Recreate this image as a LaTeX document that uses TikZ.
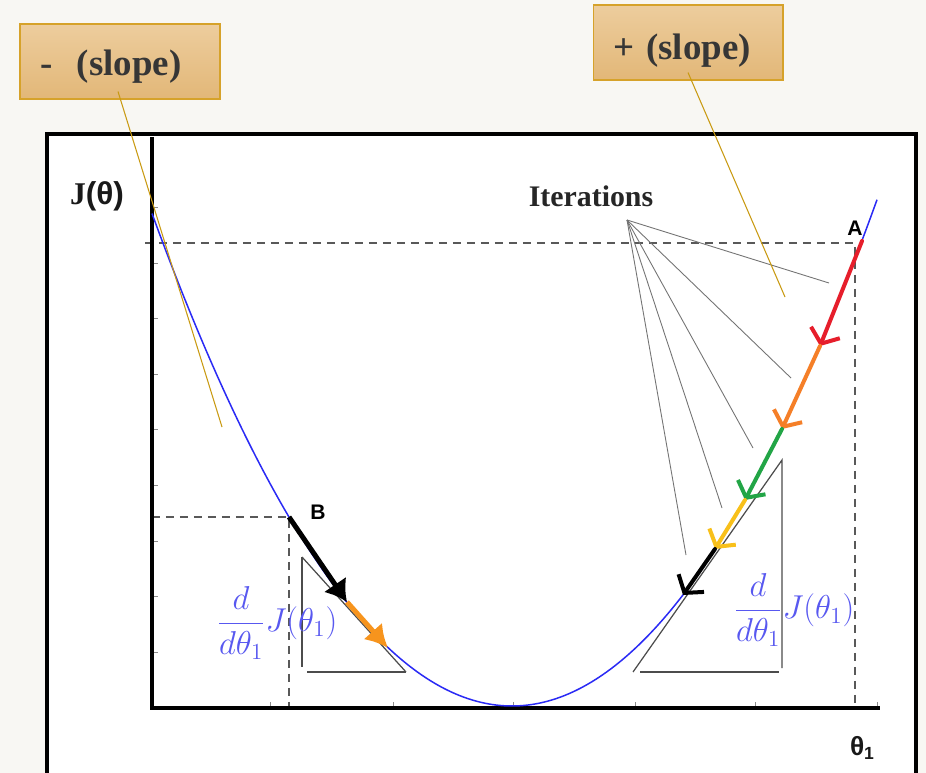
\documentclass[tikz,border=0pt]{standalone}
\usepackage{amsmath}
\usepackage{graphicx}
\usepackage{fontspec}
\setmainfont{Liberation Serif}
\newfontfamily\labelsans{Liberation Sans}
\usetikzlibrary{arrows.meta, positioning}

% colori
\definecolor{pagebg}{HTML}{F8F7F3}
\definecolor{boxtop}{HTML}{EDCD9D}
\definecolor{boxbot}{HTML}{E2B778}
\definecolor{boxedge}{HTML}{D6A22A}
\definecolor{leadergold}{HTML}{C99A12}
\definecolor{textgray}{HTML}{363636}
\definecolor{curveblue}{HTML}{2A2AF5}
\definecolor{derivblue}{HTML}{5858F0}
\definecolor{stepred}{HTML}{E61E2B}
\definecolor{steporange}{HTML}{F57F28}
\definecolor{stepgreen}{HTML}{22A546}
\definecolor{stepyellow}{HTML}{F8C01A}
\definecolor{bstep}{HTML}{F7941D}

\newcommand{\derivJ}{\scalebox{1.09}{$\dfrac{d}{d\theta_1}J(\theta_1)$}}

\begin{document}
\begin{tikzpicture}[
    x=0.02cm, y=-0.02cm,
    slopebox/.style={
        rectangle, draw=boxedge, line width=0.6pt,
        top color=boxtop, bottom color=boxbot,
        minimum height=1.5cm, inner xsep=0.4cm,
        font=\fontsize{21}{24}\selectfont\bfseries,
        text=textgray, align=left, text depth=0pt
    },
    leader/.style={draw=leadergold, line width=0.6pt},
    guide/.style={draw=black!65, line width=0.8pt,
        dash pattern=on 0.16cm off 0.12cm},
    axis/.style={line width=0.09cm},
    tick/.style={draw=black!45, line width=0.5pt},
    tri/.style={draw=black!70, line width=0.7pt},
    iterline/.style={draw=black!55, line width=0.5pt},
    pointlabel/.style={font=\labelsans\bfseries\fontsize{12}{14}\selectfont},
    deriv/.style={text=derivblue, font=\fontsize{17.28}{20}\selectfont},
    bigstep/.style={line width=0.1cm, -{Latex[length=0.42cm, width=0.55cm]}},
    smallstep/.style={line width=0.08cm, line cap=round, line join=round,
        -{Straight Barb[length=0.24cm, width=0.62cm]}},
]

% Sfondo e cornice
\useasboundingbox (0,0) rectangle (926,773);
\fill[pagebg] (0,0) rectangle (926,773);
\fill[white] (47,134) rectangle (916,773);
\draw[line width=0.065cm] (47,773) -- (47,134) -- (916,134) -- (916,773);

% Punti sulla curva
\coordinate (B)    at (289,517);
\coordinate (Bmid) at (347,602);
\coordinate (Bend) at (388,648);
\coordinate (A)    at (862,241);
\coordinate (s1)   at (820,346);
\coordinate (s2)   at (782,429);
\coordinate (s3)   at (745,500);
\coordinate (s4)   at (715,549);
\coordinate (s5)   at (683,595);

% Linee guida tratteggiate
\draw[guide] (145,243) -| (855,708);
\draw[guide] (B -| 152,0) -- (B) -- (B |- 0,708);

% Assi e tacche
\foreach \ty in {207,263,318,374,429,485,541,596,652}
    \draw[tick] (152,\ty) -- ++(6,0);
\foreach \tx in {270,393,513,635,755,877}
    \draw[tick] (\tx,708) -- ++(0,-6);
\draw[axis] (152,137) -- (152,708) -- (880,708);

% Curva J
\draw[curveblue, line width=0.03cm]
    plot[domain=152:877, samples=100, smooth] (\x,{706-0.38*((\x-512)/10)^2});

% Triangoli della pendenza
\draw[tri] (302,557) -- (302,667);
\draw[tri] (307,672) -- (406,672);
\draw[tri] (302,557) -- (406,672);
\draw[tri] (633,672) -- (782,460) -- (782,668);
\draw[tri] (640,672) -- (779,672);

% Passi lato sinistro
\draw[bigstep, black] (B) -- (Bmid);
\draw[bigstep, bstep, -{Latex[length=0.45cm, width=0.5cm]}] (Bmid) -- (Bend);

% Passi lato destro
\draw[smallstep, stepred]    (A)  -- (s1);
\draw[smallstep, steporange] (s1) -- (s2);
\draw[smallstep, stepgreen]  (s2) -- (s3);
\draw[smallstep, stepyellow] (s3) -- (s4);
\draw[smallstep, black]      (s4) -- (s5);

% Etichette
\node[pointlabel] (labA) at (855,228) {A};
\node[pointlabel] (labB) at (318,512) {B};
\node[deriv] (derivB) at (277,623) {\derivJ};
\node[deriv] (derivA) at (794,610) {\derivJ};
\node[font=\fontsize{18}{21}\selectfont\bfseries, text=black!90] (ylabel)
    at (97,196) {J{\labelsans(θ)}};
\node[font=\labelsans\bfseries\fontsize{15}{18}\selectfont, text=black!90] (xlabel)
    at (862,748) {θ\raisebox{-0.35ex}{\fontsize{10}{12}\selectfont 1}};

% Iterazioni
\node[font=\fontsize{17}{20}\selectfont\bfseries, text=black!85] (iters)
    at (591,196) {Iterations};
\coordinate (hub) at (627,220);
\coordinate (it1) at (829,283);
\coordinate (it2) at (791,378);
\coordinate (it3) at (753,448);
\coordinate (it4) at (722,508);
\coordinate (it5) at (686,555);
\foreach \i in {1,...,5}
    \draw[iterline] (hub) -- (it\i);

% Riquadri pendenza
\node[slopebox, minimum width=4cm, text width=3.2cm, text height=16.5pt] (minusbox)
    at (120,61.5) {-\ \ (slope)};
\node[slopebox, minimum width=3.8cm, text width=3.0cm, text height=19pt] (plusbox)
    at (688,42.5) {+ (slope)};

\coordinate (minustip) at (222,427);
\coordinate (plustip)  at (785,297);
\draw[leader] ([xshift=-0.04cm, yshift=0.16cm]minusbox.south) -- (minustip);
\draw[leader] ([yshift=0.16cm]plusbox.south) -- (plustip);

\end{tikzpicture}
\end{document}
